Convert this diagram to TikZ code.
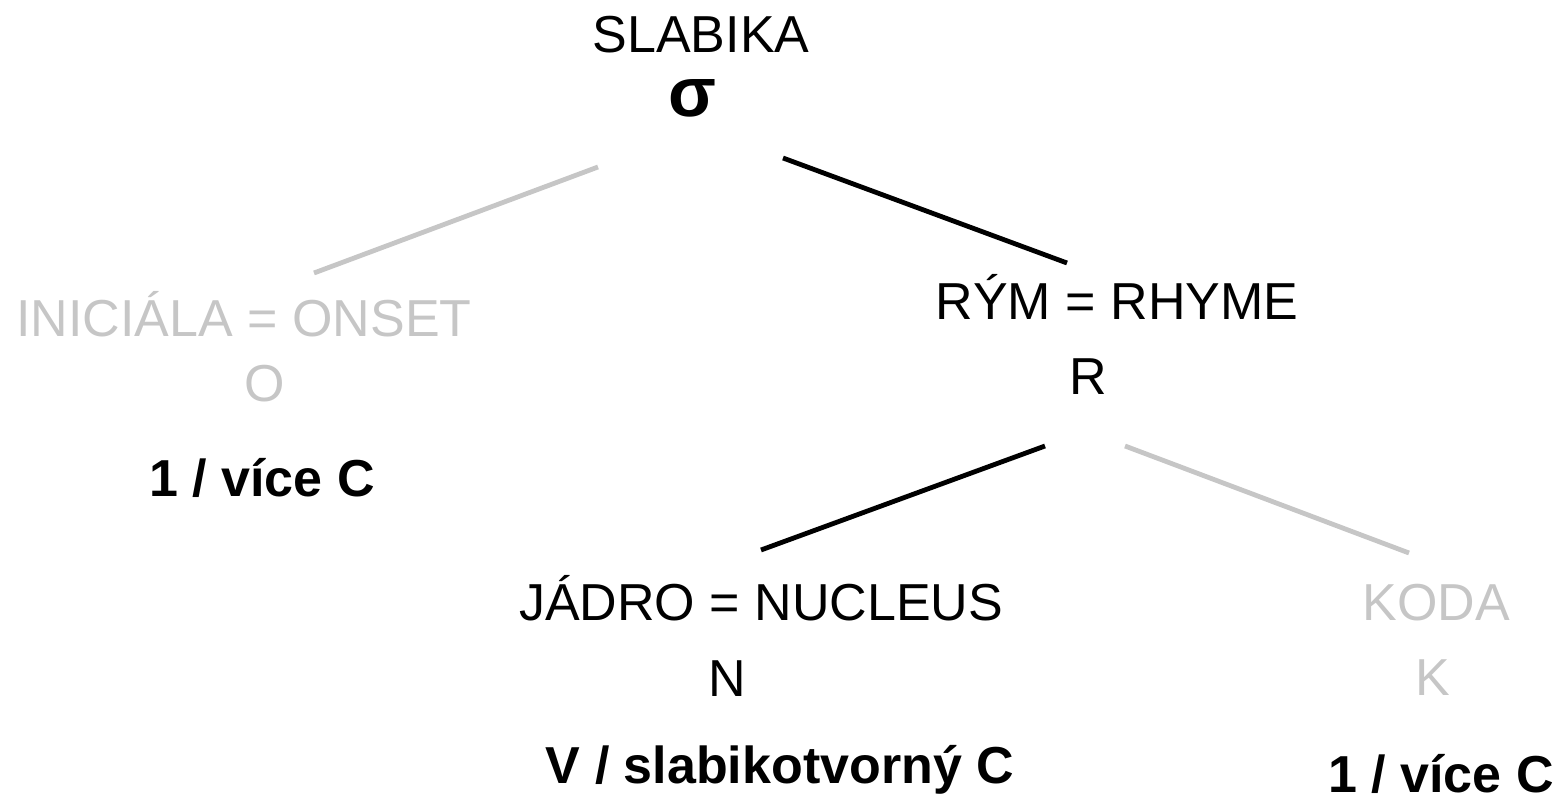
\documentclass[tikz,border=0pt]{standalone}
\usepackage{fontspec}
\setmainfont{Liberation Sans}
\definecolor{lite}{HTML}{C6C6C6}
\tikzset{
  lbl/.style={inner sep=0pt, anchor=base, font=\fontsize{26}{30}\selectfont},
  blbl/.style={lbl, font=\fontsize{26}{30}\selectfont\bfseries},
  faint/.style={text=lite},
  edge/.style={line width=2.4pt, black},
  faintedge/.style={line width=2.4pt, lite}
}
\begin{document}
\begin{tikzpicture}[x=0.5pt,y=-0.5pt]
\useasboundingbox (0,0) rectangle (1561,795);
\node[lbl] (slabika) at (701,53) {SLABIKA};
\node[lbl, font=\fontsize{35}{40}\selectfont\bfseries] (sigma) at (692,117) {σ};
\node[lbl, faint] (onset) at (244,337) {INICIÁLA = ONSET};
\node[lbl, faint] (o) at (265,402) {O};
\node[blbl] (oc) at (262,497) {1 / více C};
\node[lbl] (rhyme) at (1117,320) {RÝM = RHYME};
\node[lbl] (r) at (1088,395) {R};
\node[lbl] (nucleus) at (761,620) {JÁDRO = NUCLEUS};
\node[lbl] (n) at (727,696) {N};
\node[blbl] (nv) at (780,783) {V / slabikotvorný C};
\node[lbl, faint] (koda) at (1436,620) {KODA};
\node[lbl, faint] (k) at (1433,695) {K};
\node[blbl] (kc) at (1441,792) {1 / více C};
\coordinate (s1) at (598,167);
\coordinate (o1) at (314,273);
\coordinate (s2) at (783,158);
\coordinate (r1) at (1067,263);
\coordinate (r2) at (1045,446);
\coordinate (n1) at (761,550);
\coordinate (r3) at (1125,446);
\coordinate (k1) at (1409,553);
\draw[faintedge] (s1) -- (o1);
\draw[edge] (s2) -- (r1);
\draw[edge] (r2) -- (n1);
\draw[faintedge] (r3) -- (k1);
\end{tikzpicture}
\end{document}
